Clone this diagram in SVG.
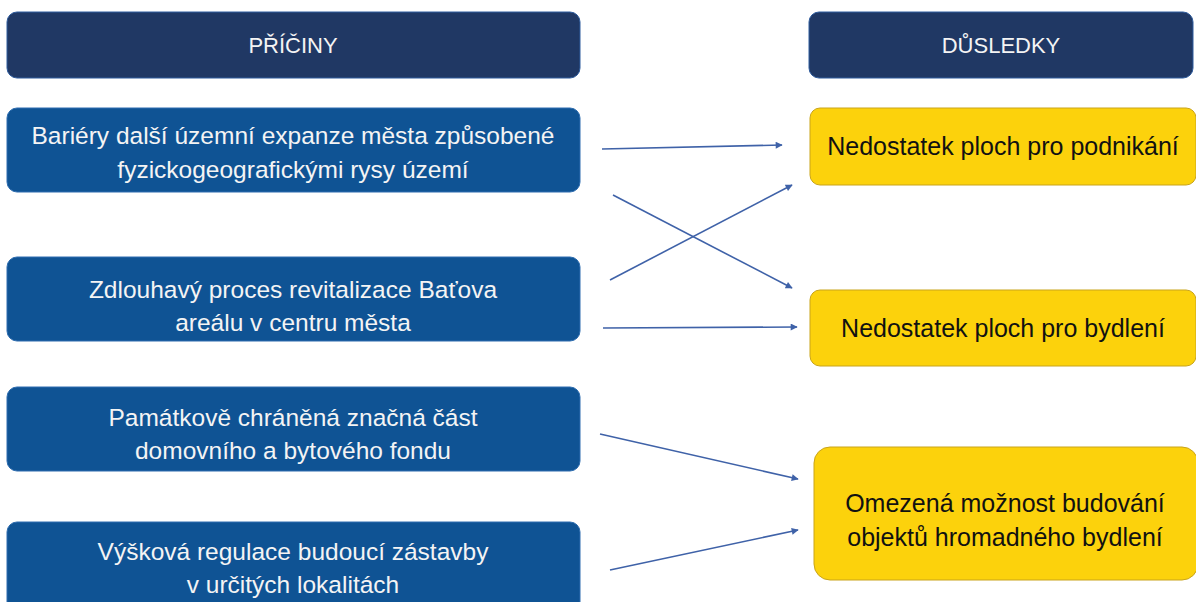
<svg xmlns="http://www.w3.org/2000/svg" width="1196" height="602" viewBox="0 0 1196 602">
<defs>
<style>
.hdr{fill:#203864;stroke:#2E5C9E;stroke-width:1}
.cause{fill:#0F5394;stroke:#2E6DB0;stroke-width:1}
.eff{fill:#FCD20C;stroke:#C9A41A;stroke-width:1}
.th{font-family:"Liberation Sans",Arial,sans-serif;font-size:22px;fill:#F4F4F4;text-anchor:middle}
.tw{font-family:"Liberation Sans",Arial,sans-serif;font-size:24.5px;fill:#F4F4F4;text-anchor:middle}
.tb{font-family:"Liberation Sans",Arial,sans-serif;font-size:25px;fill:#111;text-anchor:middle}
.conn line{stroke:#3F62A8;stroke-width:1.6;marker-end:url(#ah)}
</style>
<marker id="ah" viewBox="0 0 10 10" refX="9" refY="5" markerWidth="9" markerHeight="7" markerUnits="userSpaceOnUse" orient="auto">
<path d="M0,0 L10,5 L0,10 z" fill="#3F62A8"/>
</marker>
</defs>
<rect width="1196" height="602" fill="#fff"/>
<g id="hdr-priciny"><rect class="hdr" x="7" y="12" width="573" height="66" rx="10"/><text class="th" x="293" y="53">PŘÍČINY</text></g>
<g id="hdr-dusledky"><rect class="hdr" x="809" y="12" width="384" height="66" rx="10"/><text class="th" x="1001" y="53">DŮSLEDKY</text></g>
<g id="cause1"><rect class="cause" x="7" y="108" width="573" height="84" rx="10"/><text class="tw" x="293" y="144">Bariéry další územní expanze města způsobené</text><text class="tw" x="293" y="178">fyzickogeografickými rysy území</text></g>
<g id="cause2"><rect class="cause" x="7" y="257" width="573" height="84" rx="10"/><text class="tw" x="293" y="298">Zdlouhavý proces revitalizace Baťova</text><text class="tw" x="293" y="331">areálu v centru města</text></g>
<g id="cause3"><rect class="cause" x="7" y="387" width="573" height="84" rx="10"/><text class="tw" x="293" y="426">Památkově chráněná značná část</text><text class="tw" x="293" y="459">domovního a bytového fondu</text></g>
<g id="cause4"><rect class="cause" x="7" y="522" width="573" height="95" rx="10"/><text class="tw" x="293" y="560">Výšková regulace budoucí zástavby</text><text class="tw" x="293" y="593">v určitých lokalitách</text></g>
<g id="eff1"><rect class="eff" x="810" y="108" width="386" height="77" rx="10"/><text class="tb" x="1003" y="155">Nedostatek ploch pro podnikání</text></g>
<g id="eff2"><rect class="eff" x="810" y="290" width="386" height="76" rx="10"/><text class="tb" x="1003" y="337">Nedostatek ploch pro bydlení</text></g>
<g id="eff3"><rect class="eff" x="814" y="447" width="384" height="133" rx="16"/><text class="tb" x="1005" y="512">Omezená možnost budování</text><text class="tb" x="1005" y="546">objektů hromadného bydlení</text></g>
<g id="connectors" class="conn">
<line x1="602" y1="149" x2="782" y2="145"/>
<line x1="613" y1="195" x2="792" y2="288"/>
<line x1="610" y1="280" x2="792" y2="185"/>
<line x1="603" y1="328" x2="797" y2="327"/>
<line x1="600" y1="434" x2="798" y2="479"/>
<line x1="610" y1="570" x2="798" y2="530"/>
</g>
</svg>
